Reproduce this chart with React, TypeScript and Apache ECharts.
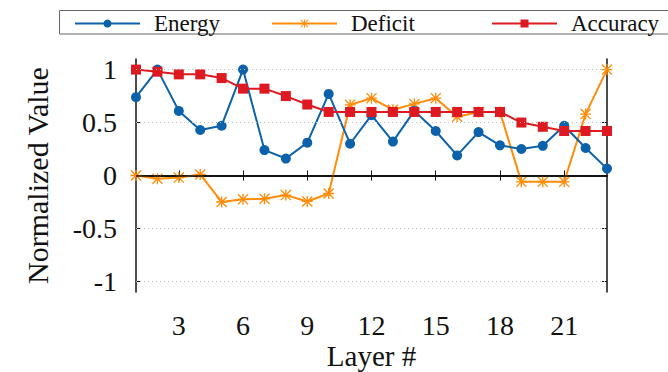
import React, { useEffect, useRef } from "react";
import * as echarts from "echarts";

// Layer indices along the x axis
const layers = ["1", "2", "3", "4", "5", "6", "7", "8", "9", "10", "11", "12", "13", "14", "15", "16", "17", "18", "19", "20", "21", "22", "23"];

// Normalized per-layer measurements
const energy = [0.74, 1.0, 0.61, 0.43, 0.47, 1.0, 0.24, 0.16, 0.31, 0.77, 0.3, 0.57, 0.32, 0.61, 0.42, 0.19, 0.41, 0.285, 0.25, 0.28, 0.47, 0.26, 0.065];
const deficit = [0, -0.03, -0.02, 0.01, -0.25, -0.225, -0.22, -0.185, -0.245, -0.17, 0.667, 0.73, 0.62, 0.676, 0.73, 0.555, 0.6, 0.6, -0.06, -0.06, -0.06, 0.58, 1.0];
const accuracy = [1.0, 0.98, 0.955, 0.955, 0.92, 0.82, 0.82, 0.75, 0.67, 0.6, 0.6, 0.6, 0.6, 0.6, 0.6, 0.6, 0.6, 0.6, 0.5, 0.46, 0.42, 0.42, 0.42];

// Axis ticks
const yTicks = [-1, -0.5, 0, 0.5, 1];
const gridLevels = [-1, -0.5, 0.5, 1];

const FONT = "Liberation Serif";
const BLUE = "#0b62aa";
const ORANGE = "#ff8c0a";
const RED = "#dd1a22";

// Eight-spoke asterisk marker
const STAR =
  "path://M0 8.8 H20 V11.2 H0 Z M8.8 0 H11.2 V20 H8.8 Z M1.7 0 L20 18.3 L18.3 20 L0 1.7 Z M18.3 0 L20 1.7 L1.7 20 L0 18.3 Z";

const everyThird = (index: number) => (index + 1) % 3 === 0;

export default function App() {
  const ref = useRef<HTMLDivElement>(null);

  useEffect(() => {
    if (!ref.current) return;
    const chart = echarts.init(ref.current, null, { renderer: "svg" });

    const legendBase = {
      top: 12,
      padding: 0,
      itemWidth: 65,
      itemHeight: 10,
      textStyle: {
        fontFamily: FONT,
        fontSize: 23,
        color: "#111",
        padding: [0, 0, 0, 9],
      },
    };

    const xAxisBase = {
      type: "category" as const,
      data: layers,
      boundaryGap: false,
      axisLine: { show: true, lineStyle: { color: "#111", width: 1.5 } },
      axisTick: {
        show: true,
        inside: true,
        length: 5,
        interval: everyThird,
        lineStyle: { color: "#111", width: 1 },
      },
      splitLine: { show: false },
    };

    const yAxisBase = {
      type: "value" as const,
      min: -1.1,
      max: 1.1,
      axisLine: { show: true, lineStyle: { color: "#111", width: 1.5 } },
      axisTick: {
        show: true,
        inside: true,
        length: 5,
        customValues: yTicks,
        lineStyle: { color: "#111", width: 1 },
      },
      splitLine: { show: false },
    };

    chart.setOption({
      animation: false,
      backgroundColor: "#fff",
      textStyle: { fontFamily: FONT },
      grid: {
        left: 136,
        right: 61,
        top: 59,
        bottom: 80,
        containLabel: false,
        outerBoundsMode: "none",
      },
      legend: [
        { ...legendBase, left: 74, data: ["Energy"] },
        { ...legendBase, left: 271, data: ["Deficit"] },
        { ...legendBase, left: 491, data: ["Accuracy"] },
      ],
      graphic: [
        {
          type: "rect",
          shape: { x: 59.5, y: 10.5, width: 640, height: 23.5 },
          style: { fill: "none", stroke: "#666", lineWidth: 1 },
          silent: true,
        },
      ],
      xAxis: [
        {
          ...xAxisBase,
          position: "bottom",
          name: "Layer #",
          nameLocation: "middle",
          nameGap: 49,
          nameMoveOverlap: false,
          nameTextStyle: {
            fontFamily: FONT,
            fontSize: 29,
            lineHeight: 29,
            color: "#111",
          },
          axisLabel: {
            show: true,
            interval: everyThird,
            margin: 21,
            fontFamily: FONT,
            fontSize: 28,
            lineHeight: 25,
            color: "#111",
          },
        },
        {
          ...xAxisBase,
          position: "top",
          axisLabel: { show: false },
        },
      ],
      yAxis: [
        {
          ...yAxisBase,
          position: "left",
          name: "Normalized Value",
          nameLocation: "middle",
          nameRotate: 90,
          nameGap: 84,
          nameTextStyle: { fontFamily: FONT, fontSize: 30, color: "#111" },
          axisLabel: {
            show: true,
            customValues: yTicks,
            margin: 19,
            fontFamily: FONT,
            fontSize: 28,
            color: "#111",
          },
        },
        {
          ...yAxisBase,
          position: "right",
          axisLabel: { show: false },
        },
      ],
      series: [
        {
          // reference lines: dotted grid and solid zero line
          type: "line",
          name: "ref",
          data: [],
          z: 1,
          silent: true,
          markLine: {
            silent: true,
            symbol: ["none", "none"],
            label: { show: false },
            animation: false,
            data: [
              ...gridLevels.map((v) => ({
                yAxis: v,
                lineStyle: { color: "#bbb", width: 1, type: [1, 3] },
              })),
              { yAxis: 0, lineStyle: { color: "#111", width: 1.5, type: "solid" } },
            ],
          },
        },
        {
          name: "Energy",
          type: "line",
          data: energy,
          z: 3,
          color: BLUE,
          symbol: "circle",
          symbolSize: 10,
          lineStyle: { color: BLUE, width: 2 },
          itemStyle: { color: BLUE },
        },
        {
          name: "Deficit",
          type: "line",
          data: deficit,
          z: 2,
          color: ORANGE,
          symbol: STAR,
          symbolSize: 11,
          lineStyle: { color: ORANGE, width: 2 },
          itemStyle: { color: ORANGE },
        },
        {
          name: "Accuracy",
          type: "line",
          data: accuracy,
          z: 4,
          color: RED,
          symbol: "rect",
          symbolSize: 10,
          lineStyle: { color: RED, width: 2 },
          itemStyle: { color: RED },
        },
      ],
    });

    return () => chart.dispose();
  }, []);

  return (
    <div
      ref={ref}
      style={{ width: 668, height: 372, position: "absolute", left: 0, top: 0 }}
    />
  );
}
